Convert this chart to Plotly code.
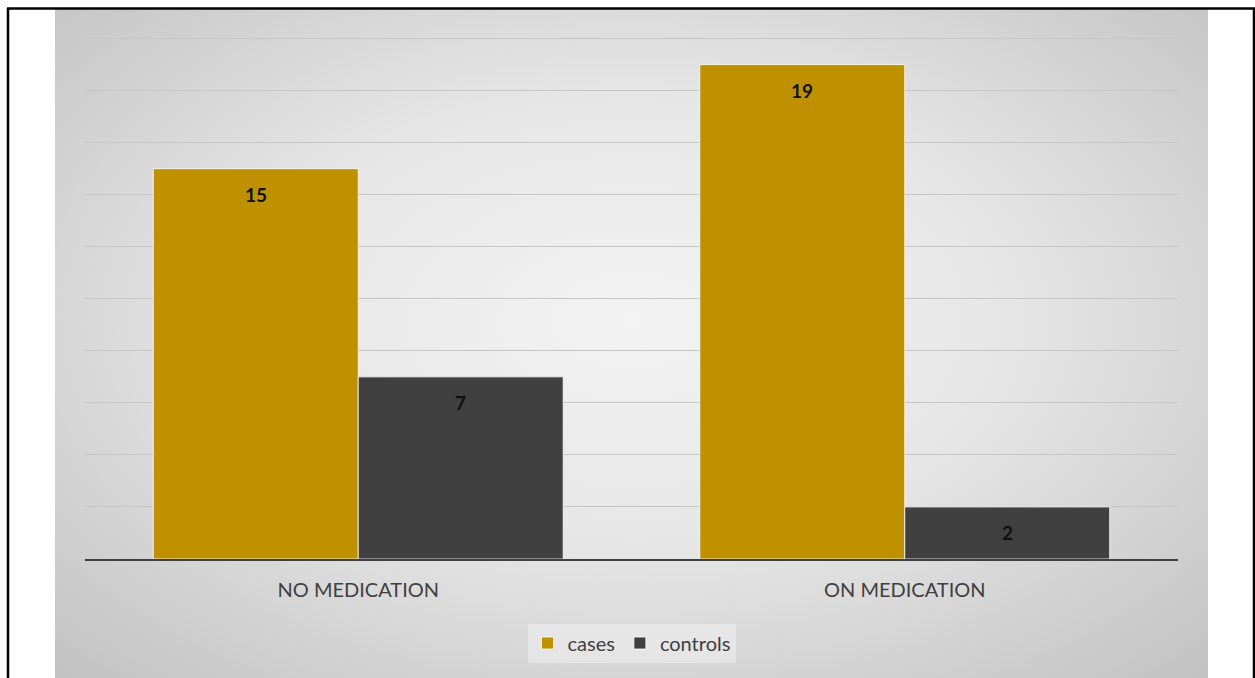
import base64
import plotly.graph_objects as go

categories = ["NO MEDICATION", "ON MEDICATION"]
cases = [15, 19]
controls = [7, 2]
series_names = ["cases", "controls"]
colors = ["#BF9000", "#404040"]

W, H = 1255, 678
L, R, T, B = 85, 77, 36, 119
pw, ph = W - L - R, H - T - B
YMAX = 20.1

def px_x(x):
    return (x - L) / pw

def px_y(y):
    return (H - B - y) / ph

svg = (
    '<svg xmlns="http://www.w3.org/2000/svg" width="1153" height="669" '
    'preserveAspectRatio="none" viewBox="0 0 1153 669">'
    '<defs><radialGradient id="g" cx="0.5" cy="0.45" r="0.72" '
    'gradientUnits="objectBoundingBox">'
    '<stop offset="0" stop-color="#f3f3f3"/>'
    '<stop offset="0.45" stop-color="#e6e6e6"/>'
    '<stop offset="1" stop-color="#c2c2c2"/>'
    '</radialGradient></defs>'
    '<rect x="0" y="0" width="1153" height="669" fill="url(#g)"/></svg>'
)
src = "data:image/svg+xml;base64," + base64.b64encode(svg.encode()).decode()

fig = go.Figure()
for name, vals, col in zip(series_names, [cases, controls], colors):
    fig.add_trace(go.Bar(
        name=name, x=categories, y=vals,
        marker=dict(color=col, line=dict(color="rgba(255,255,255,0.8)", width=1)),
        text=[str(v) for v in vals], textposition="none",
        hoverinfo="skip",
    ))

annotations = []
for i, (vals, sh) in enumerate(zip([cases, controls], [-102.5, 102.5])):
    for c, v in zip(categories, vals):
        annotations.append(dict(
            x=c, y=v, xref="x", yref="y", text="<b>%d</b>" % v,
            showarrow=False, xshift=sh, yshift=-26,
            font=dict(family="Lato, Carlito, sans-serif", size=19, color="#111111"),
        ))

shapes = [
    dict(type="line", xref="paper", yref="paper", x0=px_x(8), x1=px_x(8), y0=px_y(8), y1=px_y(700),
         line=dict(color="black", width=2.5)),
    dict(type="line", xref="paper", yref="paper", x0=px_x(1254), x1=px_x(1254), y0=px_y(8), y1=px_y(700),
         line=dict(color="black", width=2.5)),
    dict(type="line", xref="paper", yref="paper", x0=px_x(7), x1=px_x(1255), y0=px_y(8.5), y1=px_y(8.5),
         line=dict(color="black", width=2.5)),
]

fig.update_layout(
    width=W, height=H,
    margin=dict(l=L, r=R, t=T, b=B),
    paper_bgcolor="white", plot_bgcolor="rgba(0,0,0,0)",
    barmode="group", bargap=0.25, bargroupgap=0,
    font=dict(family="Lato, Carlito, sans-serif", color="#404040"),
    images=[dict(source=src, xref="paper", yref="paper",
                 x=px_x(55), y=px_y(9), sizex=(1208 - 55) / pw, sizey=(700 - 9) / ph,
                 xanchor="left", yanchor="top", sizing="stretch", layer="below")],
    shapes=shapes,
    annotations=annotations,
    xaxis=dict(showline=True, linecolor="#404040", linewidth=2, showgrid=False,
               ticks="", tickfont=dict(size=20, color="#404040"), ticklabelstandoff=12,
               fixedrange=True),
    yaxis=dict(range=[0, YMAX], dtick=2, showticklabels=False, showgrid=True,
               gridcolor="#c6c6c6", gridwidth=1, zeroline=False, fixedrange=True),
    legend=dict(orientation="h", x=0.5, xanchor="center", y=px_y(643), yanchor="middle",
                bgcolor="rgba(240,240,240,0.55)", font=dict(size=20, color="#404040"),
                itemwidth=30, traceorder="normal"),
    showlegend=True,
)

fig.write_html("out.html")
